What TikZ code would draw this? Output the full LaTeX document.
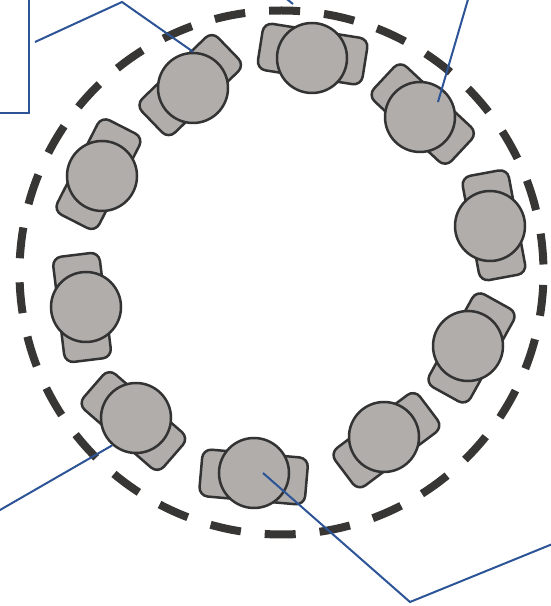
\documentclass[tikz,border=0pt]{standalone}
\definecolor{seatgray}{RGB}{176,173,171}
\definecolor{edgegray}{RGB}{51,51,51}
\definecolor{ringgray}{RGB}{56,54,52}
\definecolor{leaderblue}{RGB}{44,84,150}
\begin{document}
\begin{tikzpicture}[x=1pt,y=1pt,
  seatback/.style={draw=edgegray,fill=seatgray,line width=2.5pt,rounded corners=9pt,minimum width=106pt,minimum height=47pt,inner sep=0pt,yshift=4pt},
  seathead/.style={circle,draw=edgegray,fill=seatgray,line width=2.5pt,minimum size=70pt,inner sep=0pt},
  leader/.style={draw=leaderblue,line width=2pt}]
\useasboundingbox (0,0) rectangle (550,606);
\coordinate (ring) at (281.5,333.5);
\draw[ringgray,line width=8pt,dash pattern=on 31pt off 24pt,dash phase=47pt] (ring) circle[radius=262];
\node[rotate=-9,seatback] (b1) at (312,548) {};
\node[seathead] (s1) at (312,548) {};
\node[rotate=-43,seatback] (b2) at (420,489) {};
\node[seathead] (s2) at (420,489) {};
\node[rotate=-79.5,seatback] (b3) at (490,380) {};
\node[seathead] (s3) at (490,380) {};
\node[rotate=-119,seatback] (b4) at (468,260) {};
\node[seathead] (s4) at (468,260) {};
\node[rotate=-143,seatback] (b5) at (384,169) {};
\node[seathead] (s5) at (384,169) {};
\node[rotate=175,seatback] (b6) at (254,133) {};
\node[seathead] (s6) at (254,133) {};
\node[rotate=139,seatback] (b7) at (136,188) {};
\node[seathead] (s7) at (136,188) {};
\node[rotate=97,seatback] (b8) at (86,299) {};
\node[seathead] (s8) at (86,299) {};
\node[rotate=63,seatback] (b9) at (102,430) {};
\node[seathead] (s9) at (102,430) {};
\node[rotate=44,seatback] (b10) at (193,518) {};
\node[seathead] (s10) at (193,518) {};
\coordinate (k1) at (122,604);
\coordinate (e1) at (35,564);
\coordinate (e2) at (469,610);
\coordinate (e3) at (-4,93.7);
\coordinate (k4) at (410,4);
\coordinate (e4) at (554,62.6);
\coordinate (t1) at (285.5,608);
\coordinate (t2) at (293,602);
\draw[leader] (29,610) -- (29,493) -- (-4,493);
\draw[leader] (s10.north) -- (k1) -- (e1);
\draw[leader] (t1) -- (t2);
\draw[leader] ([xshift=18pt,yshift=15pt]s2.center) -- (e2);
\draw[leader] (s7.229) -- (e3);
\draw[leader] ([xshift=9pt]s6.center) -- (k4) -- (e4);
\end{tikzpicture}
\end{document}
